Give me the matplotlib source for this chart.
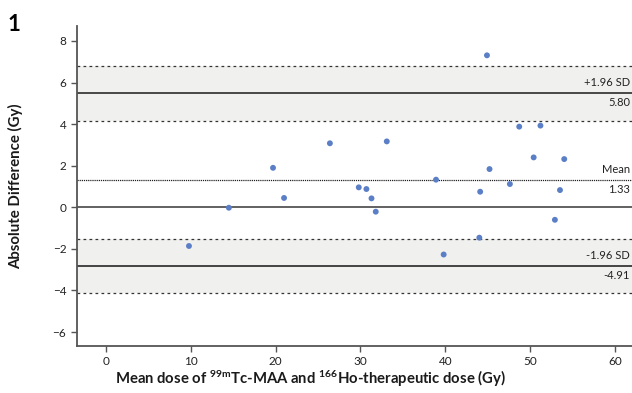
import matplotlib
matplotlib.use("Agg")
import matplotlib.pyplot as plt

# Bland-Altman data: mean dose vs absolute difference (Gy)
mean_dose = [9.8, 14.5, 19.7, 21.0, 26.4, 29.8, 30.7, 31.3, 31.8, 33.1,
             38.9, 39.8, 44.9, 45.2, 44.1, 44.0, 47.6, 48.7, 50.4, 51.2,
             52.9, 53.5, 54.0]
abs_diff = [-1.86, -0.02, 1.90, 0.45, 3.08, 0.96, 0.88, 0.43, -0.21, 3.17,
            1.33, -2.27, 7.31, 1.84, 0.75, -1.46, 1.12, 3.88, 2.40, 3.93,
            -0.60, 0.83, 2.32]

mean_diff = 1.33
upper_loa = 5.51
upper_ci = [4.16, 6.79]
lower_loa = -2.82
lower_ci = [-4.13, -1.51]

upper_text = ["+1.96 SD", "5.80"]
mean_text = ["Mean", "1.33"]
lower_text = ["-1.96 SD", "-4.91"]

plt.rcParams['font.family'] = ['Lato', 'DejaVu Sans']
plt.rcParams['mathtext.fontset'] = 'custom'
plt.rcParams['mathtext.bf'] = 'Lato:bold'
plt.rcParams['mathtext.rm'] = 'Lato'

fig = plt.figure(figsize=(6.32, 3.93), dpi=100)
ax = fig.add_axes([0.1214, 0.1196, 0.9057, 0.8142])

ax.set_xlim(-3.42, 64.0)
ax.set_ylim(-6.67, 8.72)

band = '#f0f0ef'
ax.axhspan(upper_ci[0], upper_ci[1], color=band, zorder=0, lw=0)
ax.axhspan(lower_ci[0], lower_ci[1], color=band, zorder=0, lw=0)

dash = (0, (2.2, 2.6))
for y in upper_ci + lower_ci:
    ax.axhline(y, color='#333333', lw=0.9, ls=dash, zorder=1)
ax.axhline(mean_diff, color='#222222', lw=0.9, ls=(0, (1.0, 0.7)), zorder=1)
ax.axhline(upper_loa, color='#1a1a1a', lw=1.1, zorder=1)
ax.axhline(lower_loa, color='#444444', lw=1.4, zorder=1)
ax.axhline(0, color='#555555', lw=1.3, zorder=1)

ax.scatter(mean_dose, abs_diff, s=18, color='#5b7fc6', edgecolors='none', zorder=3)

# labels at the right edge of the figure
fs = 8
xr = 0.997
for y, (lab, val) in [(upper_loa, upper_text), (mean_diff, mean_text), (lower_loa, lower_text)]:
    ya = ax.transData.transform((0, y))[1]
    yf = fig.transFigure.inverted().transform((0, ya))[1]
    fig.text(xr, yf + 0.012, lab, fontsize=fs, va='bottom', ha='right', color='#222222')
    fig.text(xr, yf - 0.01, val, fontsize=fs, va='top', ha='right', color='#222222')

ax.set_xticks(range(0, 61, 10))
ax.set_yticks(range(-6, 9, 2))
ax.tick_params(labelsize=8.5, length=4, width=1, color='#555555', labelcolor='#222222')
for side in ['top', 'right']:
    ax.spines[side].set_visible(False)
for side in ['left', 'bottom']:
    ax.spines[side].set_color('#555555')
    ax.spines[side].set_linewidth(1.3)

ax.set_xlabel(r'Mean dose of $\mathbf{^{99m}}$Tc-MAA and $\mathbf{^{166}}$Ho-therapeutic dose (Gy)',
              fontsize=10.7, fontweight='bold', color='#1a1a1a')
ax.xaxis.set_label_coords(0.409, -0.072)
ax.set_ylabel('Absolute Difference (Gy)', fontsize=10.8, fontweight='bold', color='#1a1a1a')
ax.yaxis.set_label_coords(-0.093, 0.5)
fig.text(0.012, 0.965, '1', fontsize=16, fontweight='bold', va='top', ha='left')

fig.savefig('out.png', dpi=100)
